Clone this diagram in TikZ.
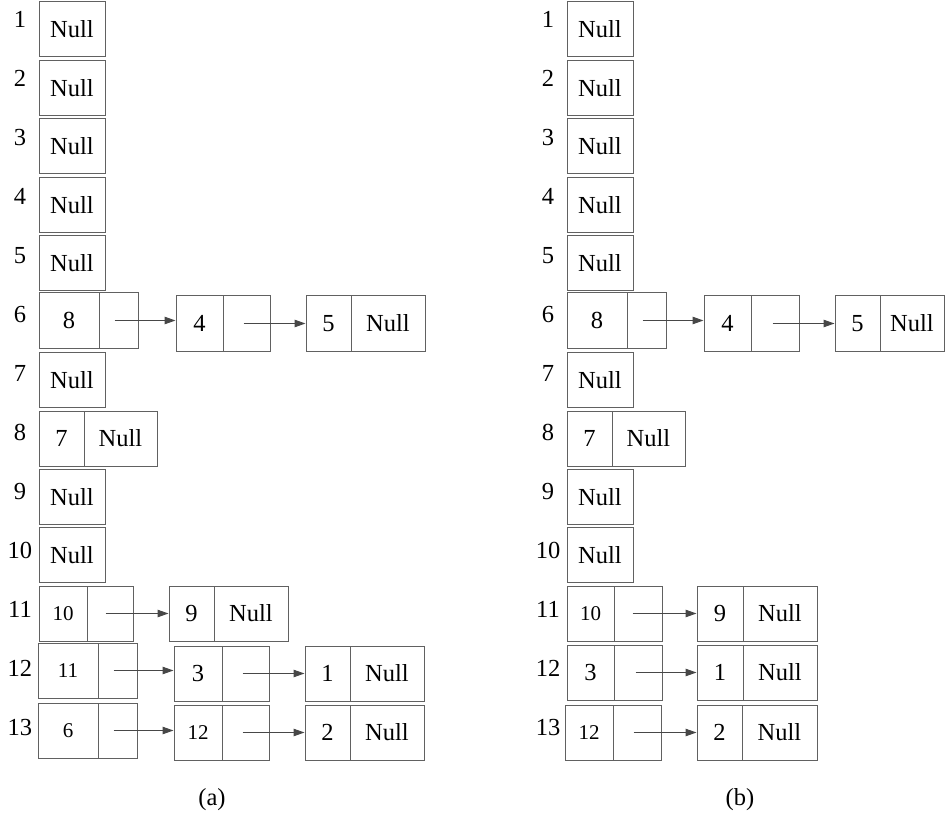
\documentclass[tikz,border=0pt]{standalone}
\usepackage{fontspec}
\setmainfont{Liberation Serif}
\usetikzlibrary{arrows.meta}
\newcommand\bigf{\fontsize{24.5}{28}\selectfont}
\newcommand\smallf{\fontsize{21}{24}\selectfont}
\tikzset{
  cellbox/.style={draw=black!62, line width=1pt, inner sep=0pt, font=\bigf},
  rowlab/.style={inner sep=0pt, font=\bigf},
  arr/.style={draw=black!72, line width=1pt, -{Triangle[length=11pt,width=7.5pt]}},
}
% \rcell{name}{x1}{x2}{ytop}{text}
\newcommand\rcell[5]{\node[cellbox, minimum width={(#3-#2)*1pt}, minimum height=55pt] (#1) at ({(#2+#3)/2},{#4+27.5}) {#5};}
\begin{document}
\begin{tikzpicture}[x=1pt,y=-1pt]
\useasboundingbox (0,0) rectangle (945,818);
% row labels
\foreach \r in {1,...,13}{
  \node[rowlab] (la\r) at (20,{19+(\r-1)*59.05}) {\r};
  \node[rowlab] (lb\r) at (548,{19+(\r-1)*59.05}) {\r};
}
% single Null rows
\foreach \r/\t in {1/2,2/60.4,3/118.8,4/177.2,5/235.6,7/352.4,9/469.2,10/527.6}{
  \rcell{na\r}{39}{105}{\t}{Null}
  \rcell{nb\r}{567}{633}{\t}{Null}
}
% ---------------- panel (a) ----------------
% row 6 (a)
\rcell{a6k}{39}{99}{293}{8}
\rcell{a6p}{99}{138}{293}{}
\rcell{a6bk}{176}{223}{296}{4}
\rcell{a6bp}{223}{270}{296}{}
\rcell{a6ck}{306}{351}{296}{5}
\rcell{a6cn}{351}{425}{296}{Null}
\draw[arr] ([xshift=16pt]a6p.west) -- (a6p.west -| a6bk.west);
\draw[arr] ([xshift=21pt]a6bp.west) -- (a6bp.west -| a6ck.west);
% row 8 (a)
\rcell{a8k}{39}{84}{411}{7}
\rcell{a8n}{84}{157}{411}{Null}
% row 11 (a)
\rcell{a11k}{39}{87}{586}{\smallf 10}
\rcell{a11p}{87}{133}{586}{}
\rcell{a11bk}{169}{214}{586}{9}
\rcell{a11bn}{214}{288}{586}{Null}
\draw[arr] ([xshift=19pt]a11p.west) -- (a11p.west -| a11bk.west);
% row 12 (a)
\rcell{a12k}{38}{98}{643}{\smallf 11}
\rcell{a12p}{98}{137}{643}{}
\rcell{a12bk}{174}{222}{646}{3}
\rcell{a12bp}{222}{269}{646}{}
\rcell{a12ck}{305}{350}{646}{1}
\rcell{a12cn}{350}{424}{646}{Null}
\draw[arr] ([xshift=16pt]a12p.west) -- (a12p.west -| a12bk.west);
\draw[arr] ([xshift=21pt]a12bp.west) -- (a12bp.west -| a12ck.west);
% row 13 (a)
\rcell{a13k}{38}{98}{703}{\smallf 6}
\rcell{a13p}{98}{137}{703}{}
\rcell{a13bk}{174}{222}{705}{\smallf 12}
\rcell{a13bp}{222}{269}{705}{}
\rcell{a13ck}{305}{350}{705}{2}
\rcell{a13cn}{350}{424}{705}{Null}
\draw[arr] ([xshift=16pt]a13p.west) -- (a13p.west -| a13bk.west);
\draw[arr] ([xshift=21pt]a13bp.west) -- (a13bp.west -| a13ck.west);
% ---------------- panel (b) ----------------
% row 6 (b)
\rcell{b6k}{567}{627}{293}{8}
\rcell{b6p}{627}{666}{293}{}
\rcell{b6bk}{704}{751}{296}{4}
\rcell{b6bp}{751}{799}{296}{}
\rcell{b6ck}{835}{880}{296}{5}
\rcell{b6cn}{880}{944}{296}{Null}
\draw[arr] ([xshift=16pt]b6p.west) -- (b6p.west -| b6bk.west);
\draw[arr] ([xshift=22pt]b6bp.west) -- (b6bp.west -| b6ck.west);
% row 8 (b)
\rcell{b8k}{567}{612}{411}{7}
\rcell{b8n}{612}{685}{411}{Null}
% row 11 (b)
\rcell{b11k}{567}{614}{586}{\smallf 10}
\rcell{b11p}{614}{662}{586}{}
\rcell{b11bk}{697}{743}{586}{9}
\rcell{b11bn}{743}{817}{586}{Null}
\draw[arr] ([xshift=19pt]b11p.west) -- (b11p.west -| b11bk.west);
% row 12 (b)
\rcell{b12k}{567}{614}{645}{3}
\rcell{b12p}{614}{662}{645}{}
\rcell{b12bk}{697}{743}{645}{1}
\rcell{b12bn}{743}{817}{645}{Null}
\draw[arr] ([xshift=22pt]b12p.west) -- (b12p.west -| b12bk.west);
% row 13 (b)
\rcell{b13k}{565}{613}{705}{\smallf 12}
\rcell{b13p}{613}{661}{705}{}
\rcell{b13bk}{697}{742}{705}{2}
\rcell{b13bn}{742}{817}{705}{Null}
\draw[arr] ([xshift=21pt]b13p.west) -- (b13p.west -| b13bk.west);
% captions
\node[rowlab] (capa) at (212,800) {(a)};
\node[rowlab] (capb) at (740,800) {(b)};
\end{tikzpicture}
\end{document}
